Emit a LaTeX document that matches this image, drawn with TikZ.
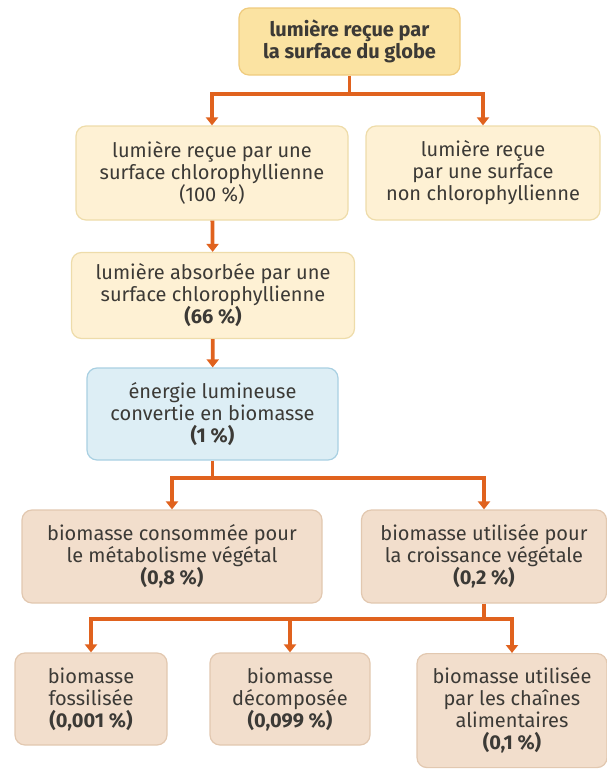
\documentclass[tikz,border=0pt]{standalone}
\usepackage{fontspec}
\setmainfont{Fira Sans}
\usepackage{tikz}
\usetikzlibrary{arrows.meta,positioning,calc}
\definecolor{flowline}{HTML}{E0621E}
\definecolor{inktext}{HTML}{3C3A36}
\definecolor{globefill}{HTML}{FBE3A2}
\definecolor{globedraw}{HTML}{EFCB7E}
\definecolor{lightfill}{HTML}{FEF1D4}
\definecolor{lightdraw}{HTML}{EEDCAA}
\definecolor{energyfill}{HTML}{DDEEF5}
\definecolor{energydraw}{HTML}{A9D0E2}
\definecolor{biofill}{HTML}{F2DECC}
\definecolor{biodraw}{HTML}{E2C8B0}
\tikzset{
  box/.style={rounded corners=10pt, align=center, line width=1.2pt, text=inktext, inner sep=3pt, font=\fontsize{20}{22}\selectfont},
  globe/.style={box, draw=globedraw, fill=globefill, font=\fontsize{20}{22}\selectfont\bfseries},
  lumiere/.style={box, draw=lightdraw, fill=lightfill},
  energie/.style={box, draw=energydraw, fill=energyfill},
  biomasse/.style={box, draw=biodraw, fill=biofill},
  link/.style={line width=3.8pt, draw=flowline},
  arrow/.style={link, -{Triangle[length=8pt, width=12pt]}}
}

\begin{document}
\begin{tikzpicture}[x=1pt, y=-1pt]
  \useasboundingbox (0,0) rectangle (607,769);

  \node[globe, minimum width=221pt, minimum height=67pt] (globe) at (349.5,41.5)
  {lumière reçue par\\la surface du globe};

  \node[lumiere, minimum width=272pt, minimum height=94pt] (recue) at (212,173)
  {lumière reçue par une\\surface chlorophyllienne\\(100 \%)};
  \node[lumiere, minimum width=234pt, minimum height=94pt] (nonchloro) at (483,173)
  {lumière reçue\\par une surface\\non chlorophyllienne};
  \node[lumiere, minimum width=283pt, minimum height=86pt] (absorbee) at (213,295.5)
  {lumière absorbée par une\\surface chlorophyllienne\\\textbf{(66 \%)}};

  \node[energie, minimum width=251pt, minimum height=92pt] (energie) at (212.5,414)
  {énergie lumineuse\\convertie en biomasse\\\textbf{(1 \%)}};

  \node[biomasse, minimum width=300pt, minimum height=93pt] (metabo) at (172,556.5)
  {biomasse consommée pour\\le métabolisme végétal\\\textbf{(0,8 \%)}};
  \node[biomasse, minimum width=245pt, minimum height=93pt] (croiss) at (484,556.5)
  {biomasse utilisée pour\\la croissance végétale\\\textbf{(0,2 \%)}};

  \node[biomasse, minimum width=152pt, minimum height=92pt] (fossile) at (91,699)
  {biomasse\\fossilisée\\\textbf{(0,001 \%)}};
  \node[biomasse, minimum width=160pt, minimum height=92pt] (decomp) at (290,699)
  {biomasse\\décomposée\\\textbf{(0,099 \%)}};
  \node[biomasse, minimum width=190pt, minimum height=114pt, anchor=north] (chaines) at (512,653)
  {biomasse utilisée\\par les chaînes\\alimentaires\\\textbf{(0,1 \%)}};

  % lumiere du globe
  \coordinate (j1) at ($(globe.south)+(0,18)$);
  \draw[link] (globe.south) -- (j1);
  \draw[arrow] (j1) -| (recue.north);
  \draw[arrow] (j1) -| (nonchloro.north);

  \draw[arrow] (recue) -- (absorbee);
  \draw[arrow] (absorbee) -- (energie);

  % partage de la biomasse
  \coordinate (j2) at ($(energie.south)+(0,17)$);
  \draw[link] (energie.south) -- (j2);
  \draw[arrow] (j2) -| (metabo.north);
  \draw[arrow] (j2) -| (croiss.north);

  \coordinate (j3) at ($(croiss.south)+(0,15)$);
  \draw[link] (croiss.south) -- (j3);
  \draw[arrow] (j3) -| (fossile.north);
  \draw[arrow] (j3) -| (decomp.north);
  \draw[arrow] (j3) -| (chaines.north);
\end{tikzpicture}
\end{document}
